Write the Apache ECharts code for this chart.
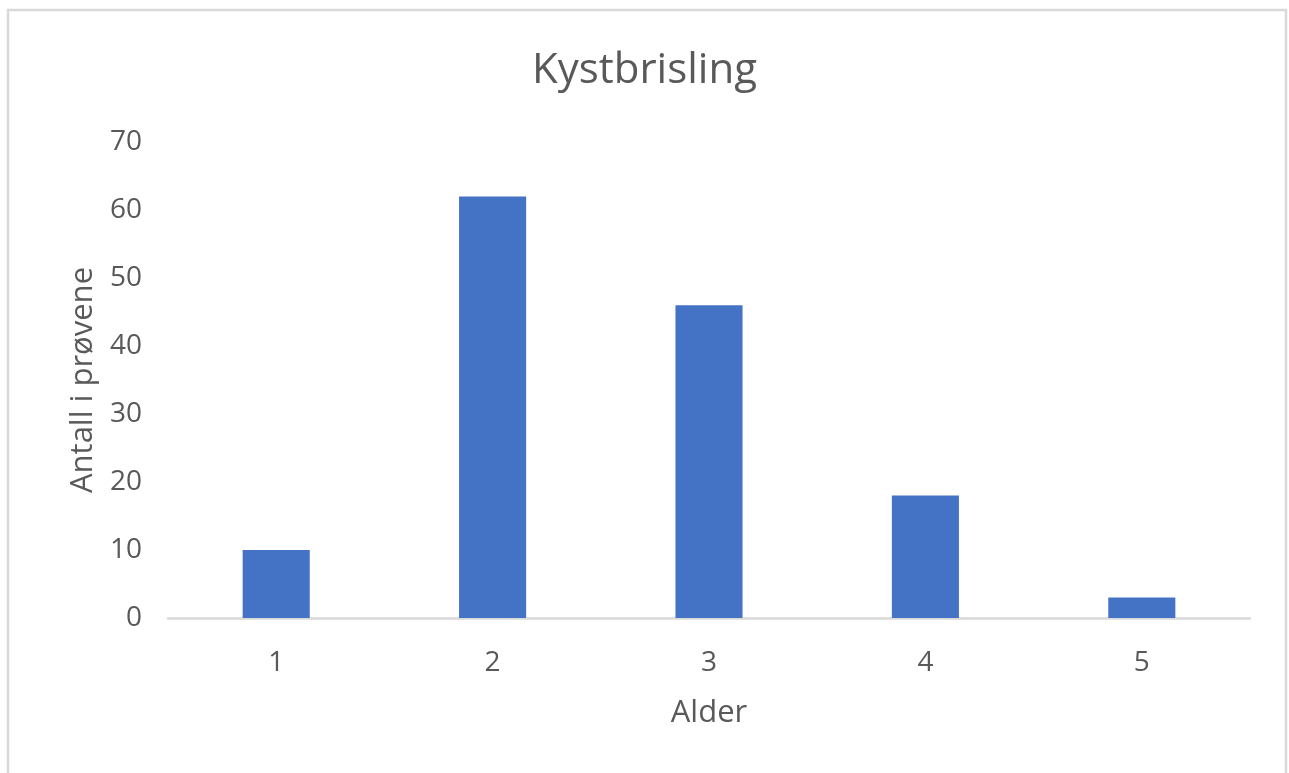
<!DOCTYPE html>
<html>
<head>
<meta charset="utf-8">
<script src="https://cdn.jsdelivr.net/npm/echarts@6/dist/echarts.min.js"></script>
<style>
    html, body { margin: 0; padding: 0; background: #fff; }
    #chart { width: 1289px; height: 773px; }
</style>
</head>
<body>
<div id="chart"></div>
<script>
// Alder (kategorier) og antall i prøvene
const categories = ['1', '2', '3', '4', '5'];
const counts = [10, 62, 46, 18, 3];
const yTicks = { min: 0, max: 70, interval: 10 };

const textColor = '#595959';
const fontFamily = '"Open Sans", "Noto Sans", sans-serif';

let chart = echarts.init(document.getElementById('chart'));
chart.setOption({
    animation: false,
    backgroundColor: '#fff',
    // ramme rundt diagrammet
    graphic: [{
        type: 'rect',
        shape: { x: 8, y: 10, width: 1278, height: 800 },
        style: { fill: 'none', stroke: '#d9d9d9', lineWidth: 2.5 },
        silent: true
    }],
    title: {
        text: 'Kystbrisling',
        left: 'center',
        top: 45,
        textStyle: { color: textColor, fontFamily: fontFamily, fontSize: 42, fontWeight: 'normal' }
    },
    grid: {
        left: 168,
        right: 39,
        top: 142,
        bottom: 155
    },
    xAxis: {
        type: 'category',
        data: categories,
        name: 'Alder',
        nameLocation: 'middle',
        nameGap: 80,
        nameTextStyle: { color: textColor, fontFamily: fontFamily, fontSize: 31 },
        axisLine: { lineStyle: { color: '#d9d9d9', width: 2.5 } },
        axisTick: { show: false },
        axisLabel: { color: textColor, fontFamily: fontFamily, fontSize: 28, margin: 31 }
    },
    yAxis: {
        type: 'value',
        min: yTicks.min,
        max: yTicks.max,
        interval: yTicks.interval,
        name: 'Antall i prøvene',
        nameLocation: 'middle',
        nameGap: 66,
        nameTextStyle: { color: textColor, fontFamily: fontFamily, fontSize: 31 },
        axisLine: { show: false },
        axisTick: { show: false },
        splitLine: { show: false },
        axisLabel: { color: textColor, fontFamily: fontFamily, fontSize: 28, margin: 26 }
    },
    series: [{
        type: 'bar',
        data: counts,
        barWidth: '31%',
        itemStyle: { color: '#4472c4' }
    }]
});
</script>
</body>
</html>
